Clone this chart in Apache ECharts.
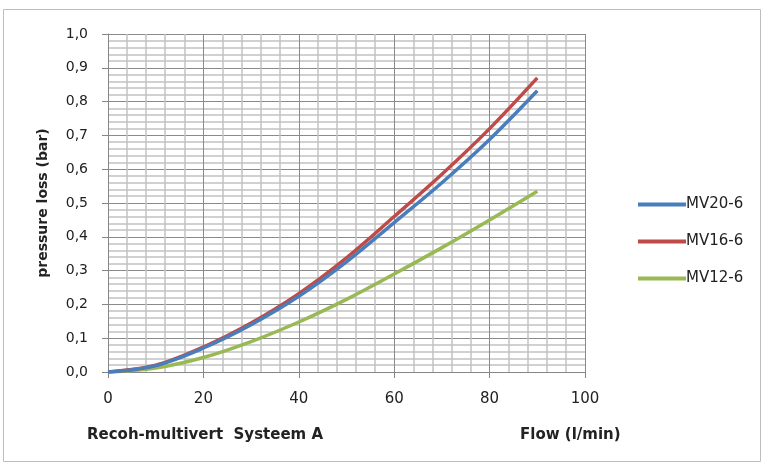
<!DOCTYPE html>
<html><head><meta charset="utf-8">
<script src="https://cdn.jsdelivr.net/npm/echarts@6/dist/echarts.min.js"></script>
<style>html,body{margin:0;padding:0;background:#fff}#c{width:765px;height:466px}</style>
</head><body><div id="c"></div>
<script>
const flow = [0,10,20,30,40,50,60,70,80,90];
const mv20 = [0,0.019,0.071,0.140,0.224,0.326,0.442,0.560,0.688,0.832];
const mv16 = [0,0.020,0.074,0.145,0.232,0.338,0.460,0.585,0.720,0.870];
const mv12 = [0,0.012,0.043,0.090,0.148,0.215,0.290,0.368,0.450,0.535];
const seriesNames = ['MV20-6','MV16-6','MV12-6'];
const colors = ['#4a7ebb','#be4b48','#98b954'];
const font = '"DejaVu Sans", Verdana, sans-serif';
const pair = a => flow.map((x,i)=>[x,a[i]]);
const chart = echarts.init(document.getElementById('c'));
chart.setOption({
  animation:false,
  graphic:[
    {type:'rect',shape:{x:3.5,y:9.5,width:757,height:452},style:{fill:'none',stroke:'#bdbdbd',lineWidth:1}},
    {type:'text',left:87,top:428,style:{text:'Recoh-multivert  Systeem A',font:'bold 15px '+font,fill:'#222'}},
    {type:'text',left:520,top:428,style:{text:'Flow (l/min)',font:'bold 15px '+font,fill:'#222'}}
  ],
  grid:{left:108,right:180,top:34,bottom:94},
  legend:{orient:'vertical',left:633,top:192,icon:'rect',itemWidth:48,itemHeight:4,itemGap:22,
    textStyle:{fontFamily:font,fontSize:15,color:'#222',padding:[0,0,0,-5]},data:seriesNames},
  xAxis:{type:'value',min:0,max:100,interval:20,
    axisLine:{show:true,lineStyle:{color:'#868686'}},
    axisTick:{show:true,length:6,lineStyle:{color:'#868686'}},
    axisLabel:{fontFamily:font,fontSize:15,color:'#222',margin:20},
    splitLine:{show:true,lineStyle:{color:'#8a8a8a',width:1}},
    minorTick:{show:false,splitNumber:5},
    minorSplitLine:{show:true,lineStyle:{color:'#c2c2c2',width:1.5}}},
  yAxis:{type:'value',min:0,max:1,interval:0.1,
    name:'pressure loss (bar)',nameLocation:'middle',nameGap:58,
    nameTextStyle:{fontFamily:font,fontSize:14,fontWeight:'bold',color:'#222'},
    axisLine:{show:true,lineStyle:{color:'#868686'}},
    axisTick:{show:true,length:6,lineStyle:{color:'#868686'}},
    axisLabel:{fontFamily:font,fontSize:14,color:'#222',margin:20,formatter:v=>v.toFixed(1).replace('.',',')},
    splitLine:{show:true,lineStyle:{color:'#8a8a8a',width:1}},
    minorTick:{show:false,splitNumber:5},
    minorSplitLine:{show:true,lineStyle:{color:'#c2c2c2',width:1.5}}},
  series:[mv20,mv16,mv12].map((d,i)=>({name:seriesNames[i],type:'line',smooth:0.35,symbol:'none',
    data:pair(d),lineStyle:{color:colors[i],width:3.5},itemStyle:{color:colors[i]},z:5-i}))
});
</script></body></html>
